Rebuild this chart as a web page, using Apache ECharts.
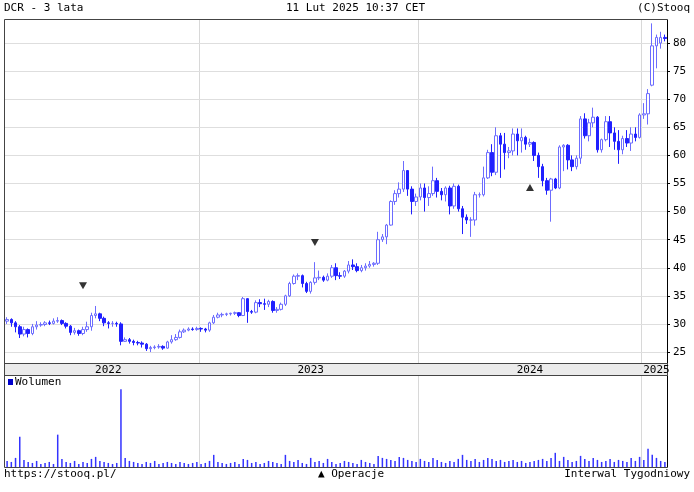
<!DOCTYPE html>
<html>
<head>
<meta charset="utf-8">
<script src="https://cdn.jsdelivr.net/npm/echarts@6/dist/echarts.min.js"></script>
<style>html,body{margin:0;padding:0;background:#fff}#main{width:694px;height:492px}</style>
</head>
<body>
<div id="main"></div>
<script>
// Notowania tygodniowe DCR: [otwarcie, zamknięcie, minimum, maksimum]
const candles = [
  [30.5,30.8,30,31.2],[30.8,30.2,29.5,31],[30.2,29.5,28.5,30.5],[29.5,28.2,27.5,29.8],[28.2,29,27.8,29.5],
  [29,28.3,27.6,29.2],[28.3,29.5,28,30],[29.5,29.8,29,30.5],[29.8,29.9,29.5,30.3],[29.9,30.2,29.6,30.5],
  [30.2,30.1,29.8,30.6],[30.1,30.5,29.9,31],[30.5,30.6,30.2,31.2],[30.6,30.1,29.8,30.8],[30.1,29.6,29.2,30.3],
  [29.6,28.5,28,29.8],[28.5,28.8,28.1,29.3],[28.8,28.3,27.9,29],[28.3,29,28,29.5],[29,29.5,28.6,30.4],
  [29.5,31.5,28.8,32],[31.5,31.8,31,33.2],[31.8,31,30.5,32],[31,30.2,29.6,31.3],[30.2,30.1,29.2,30.5],
  [30.1,30.1,29.5,30.5],[30.1,30,29.5,30.4],[30,26.9,26.2,30.3],[26.9,27.2,26.8,27.6],[27.2,26.9,26.5,27.5],
  [26.9,26.7,26.2,27.2],[26.7,26.6,26.2,27],[26.6,26.4,25.8,26.9],[26.4,25.6,25.2,26.6],[25.6,25.8,25,26.1],
  [25.8,25.9,25.5,26.2],[25.9,26,25.6,26.4],[26,25.7,25.4,26.2],[25.7,26.8,25.6,27],[26.8,27.2,26.5,28],
  [27.2,27.6,27,28.2],[27.6,28.6,27.4,29],[28.6,28.9,28.4,29.2],[28.9,29.1,28.7,29.4],[29.1,29,28.8,29.4],
  [29,29.2,28.8,29.5],[29.2,29.1,28.6,29.4],[29.1,28.9,28.5,29.3],[28.9,30.2,28.6,30.4],[30.2,31.2,30,31.6],
  [31.2,31.6,31,32],[31.6,31.7,31.2,32],[31.7,31.8,31.4,32],[31.8,31.9,31.5,32],[31.9,32,31.6,32.2],
  [32,31.5,31.2,32.1],[31.5,34.5,31.4,34.8],[34.5,32.2,30.2,34.6],[32.2,32.1,31.8,32.5],[32.1,33.8,31.9,34.2],
  [33.8,33.6,33,34.4],[33.6,33.5,32.5,34.5],[33.5,34,33,34.3],[34,32.4,32,34.2],[32.4,32.6,32,33],
  [32.6,33.5,32.4,33.8],[33.5,35,33.2,35.2],[35,37.2,34.8,37.5],[37.2,38.5,37,38.8],[38.5,38.6,37.8,39],
  [38.6,37.2,36.5,38.8],[37.2,35.8,35.5,37.5],[35.8,37.4,35.4,37.6],[37.4,38.2,37,41],[38.2,38.3,37.8,39.5],
  [38.3,37.8,37.5,38.6],[37.8,38.5,37.6,39],[38.5,40,38.2,40.5],[40,38.6,37.8,40.8],[38.6,38.5,38,39.2],
  [38.5,39.4,38.2,39.6],[39.4,40.5,39,41.2],[40.5,40.2,39.6,41.5],[40.2,39.5,39.2,40.8],[39.5,40,39.2,40.5],
  [40,40.3,39.5,40.8],[40.3,40.6,40,41.2],[40.6,40.8,40.2,41],[40.8,45,40.5,46.4],[45,45.5,44.6,46],
  [45.5,47.6,44.2,47.8],[47.6,51.8,47.5,52],[51.8,53.2,51.2,53.8],[53.2,54,52.5,55.2],[54,57.3,53.5,59],
  [57.3,54,52.8,57.4],[54,51.8,49.5,54.5],[51.8,52.6,51,53.2],[52.6,54.2,52,55],[54.2,52.5,50,55],
  [52.5,53.2,51,54.5],[53.2,55.5,52.8,58],[55.5,53.6,52.5,56],[53.6,53,52,54.2],[53,54.2,51.8,54.5],
  [54.2,51,49.5,54.6],[51,54.5,50.5,55],[54.5,50.5,50,54.8],[50.5,49,46,51],[49,48.5,47.8,49.5],
  [48.5,48.5,45.5,49],[48.5,53,47.5,53.5],[53,53,52.5,53.4],[53,56,52.7,58],[56,60.5,55.8,61],
  [60.5,57,56.3,62],[57,63.5,56.5,65],[63.5,62,56,64],[62,60.5,57.5,64],[60.5,60.8,59.5,61.5],
  [60.8,63.8,60,64.8],[63.8,62.6,60,64.8],[62.6,63.2,60.5,64.8],[63.2,62,61,63.5],[62,62.3,61.5,63],
  [62.3,60,59,62.5],[60,58,56,60.5],[58,55.5,54.5,58.5],[55.5,53.8,53,56],[53.8,55.8,48.2,56],
  [55.8,54.2,54,56],[54.2,61.5,54,61.8],[61.5,61.8,57.2,62],[61.8,59.2,57.5,62],[59.2,58,57.2,60],
  [58,59.5,57.5,60],[59.5,66.5,58.5,67],[66.5,63.5,63,67.5],[63.5,65.8,62.5,66.5],[65.8,66.8,65,68.5],
  [66.8,61,60.5,67],[61,62.8,60.5,63],[62.8,66,62.5,67],[66,64,61.5,67],[64,62.5,61,65],
  [62.5,61,58.5,64.5],[61,63,60.2,63.5],[63,62.2,61.5,64.5],[62.2,63.8,60.8,65],[63.8,63.2,62.5,65],
  [63.2,67.2,63,67.5],[67.2,67.4,66.5,69.3],[67.4,71,65.5,71.8],[72.5,79.5,72.3,83.5],[79.5,81,75.5,81.5],
  [80,81,79,82],[81,80.8,80.3,81.5]
];

// Wolumen (wartości względne)
const volumes = [
  6,5,9,30,7,5,4,6,3,4,5,3,32,8,5,4,6,3,5,4,
  8,10,6,5,4,3,4,77,9,6,5,4,3,5,4,6,3,4,5,4,
  3,5,4,3,4,5,3,4,6,12,5,4,3,4,5,3,8,7,4,5,
  3,4,6,5,4,3,12,6,5,7,4,3,9,5,6,4,8,5,3,4,
  6,5,4,3,7,5,4,3,11,9,8,7,6,10,9,7,6,5,8,6,
  5,9,7,5,4,6,5,8,12,7,6,8,5,7,9,8,6,7,5,6,
  7,5,6,4,5,6,7,8,6,9,14,6,10,7,5,6,11,8,6,9,
  7,5,6,8,5,7,6,5,9,6,10,7,18,12,9,6,5
];

const yearLabels = { 24: "2022", 72: "2023", 124: "2024", 154: "2025" };
const yearStarts = [46, 98, 151];
const priceTicks = [25, 30, 35, 40, 45, 50, 55, 60, 65, 70, 75, 80];
// Operacje: [indeks tygodnia, cena, kierunek]
const operations = [[18, 36.8, "down"], [73, 44.5, "down"], [124, 54.3, "up"]];

const weeks = candles.map((c, i) => {
  const d = new Date(Date.UTC(2022, 1, 14 + 7 * i));
  return d.toISOString().slice(0, 10);
});

const font = "DejaVu Sans Mono";
const chart = echarts.init(document.getElementById("main"));

const splitX = {
  show: true,
  interval: (idx) => yearStarts.includes(idx),
  lineStyle: { color: "#d8d8d8", width: 1 },
};

chart.setOption({
  animation: false,
  backgroundColor: "#fff",
  textStyle: { fontFamily: font },
  grid: [
    { left: 5, right: 27, top: 20, bottom: 129 },
    { left: 5, right: 27, top: 376, bottom: 25 },
  ],
  xAxis: [
    {
      type: "category", data: weeks, gridIndex: 0, boundaryGap: true,
      axisLine: { show: false }, axisTick: { show: false },
      axisLabel: {
        interval: (idx) => idx in yearLabels,
        formatter: (v, idx) => yearLabels[idx] || "",
        color: "#000", fontFamily: font, fontSize: 11, margin: 2,
      },
      splitLine: splitX,
    },
    {
      type: "category", data: weeks, gridIndex: 1, boundaryGap: true,
      axisLine: { show: false }, axisTick: { show: false }, axisLabel: { show: false },
      splitLine: splitX,
    },
  ],
  yAxis: [
    {
      type: "value", gridIndex: 0, position: "right", min: 23.05, max: 84.1,
      axisLine: { show: true, lineStyle: { color: "#000" } },
      axisTick: { show: true, customValues: priceTicks, length: 3, lineStyle: { color: "#000" } },
      axisLabel: { customValues: priceTicks, color: "#000", fontFamily: font, fontSize: 11, margin: 6 },
      splitLine: { show: false },
    },
    {
      type: "value", gridIndex: 1, position: "right", min: 0, max: 90,
      axisLine: { show: true, lineStyle: { color: "#000" } },
      axisTick: { show: false }, axisLabel: { show: false }, splitLine: { show: false },
    },
  ],
  series: [
    {
      type: "candlestick", xAxisIndex: 0, yAxisIndex: 0, data: candles,
      barWidth: 3, clip: false,
      itemStyle: {
        color: "#ffffff", color0: "#2020ff",
        borderColor: "#6c6cff", borderColor0: "#2020ff", borderWidth: 1,
      },
      markLine: {
        silent: true, symbol: "none", label: { show: false },
        lineStyle: { color: "#dedede", type: "solid", width: 1 },
        data: priceTicks.map((v) => ({ yAxis: v })),
        z: 0,
      },
      z: 3,
    },
    {
      type: "scatter", xAxisIndex: 0, yAxisIndex: 0,
      data: operations.map((o) => ({
        value: [o[0], o[1]],
        symbolRotate: o[2] === "down" ? 180 : 0,
      })),
      symbol: "triangle", symbolSize: [8, 7],
      itemStyle: { color: "#000" }, z: 4,
    },
    {
      type: "bar", name: "Wolumen", xAxisIndex: 1, yAxisIndex: 1, data: volumes,
      barWidth: 1.5, itemStyle: { color: "#3333ff" },
    },
  ],
  graphic: [
    { type: "rect", shape: { x: 4.5, y: 363.5, width: 663, height: 12 }, style: { fill: "#ebebeb", stroke: "#444" }, z: -1 },
    { type: "line", shape: { x1: 4.5, y1: 19.5, x2: 667.5, y2: 19.5 }, style: { stroke: "#444" } },
    { type: "line", shape: { x1: 4.5, y1: 19.5, x2: 4.5, y2: 467.5 }, style: { stroke: "#444" } },
    { type: "line", shape: { x1: 4.5, y1: 467.5, x2: 667.5, y2: 467.5 }, style: { stroke: "#444" } },
    { type: "text", left: 4, top: 3, style: { text: "DCR - 3 lata", font: "11px " + font, fill: "#000" } },
    { type: "text", left: 286, top: 3, style: { text: "11 Lut 2025 10:37 CET", font: "11px " + font, fill: "#000" } },
    { type: "text", right: 4, top: 3, style: { text: "(C)Stooq", font: "11px " + font, fill: "#000" } },
    { type: "rect", shape: { x: 8, y: 379, width: 5, height: 6 }, style: { fill: "#0000cc" } },
    { type: "text", left: 15, top: 377, style: { text: "Wolumen", font: "11px " + font, fill: "#000" } },
    { type: "text", left: 4, top: 469, style: { text: "https://stooq.pl/", font: "11px " + font, fill: "#000" } },
    { type: "text", left: 318, top: 469, style: { text: "▲ Operacje", font: "11px " + font, fill: "#000" } },
    { type: "text", right: 4, top: 469, style: { text: "Interwal Tygodniowy", font: "11px " + font, fill: "#000" } },
  ],
});
</script>
</body>
</html>
